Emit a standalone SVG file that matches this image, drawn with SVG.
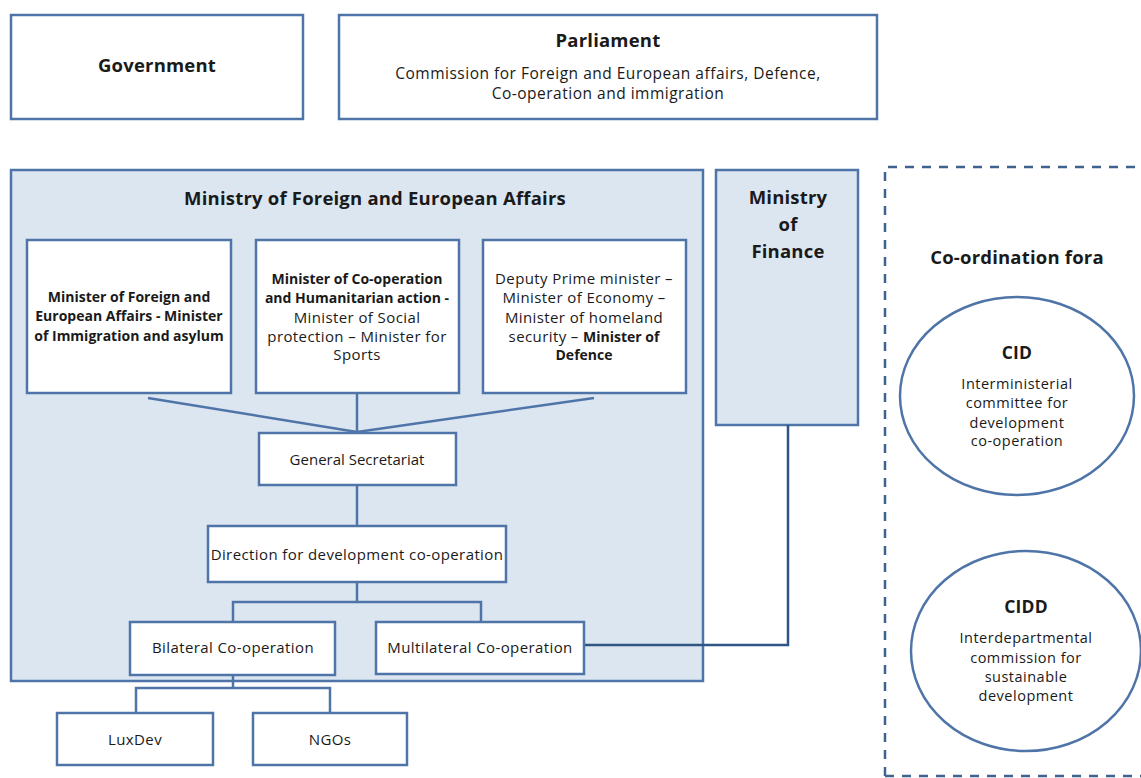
<svg xmlns="http://www.w3.org/2000/svg" width="1141" height="778" viewBox="0 0 1141 778">
<style>
.box{fill:#fff;stroke:#4f75a8;stroke-width:2.5}
.blue{fill:#dce6f1;stroke:#4f75a8;stroke-width:2.5}
.dash{fill:none;stroke:#3f638f;stroke-width:2.5;stroke-dasharray:9 8}
.ln{fill:none;stroke:#4f75a8;stroke-width:2.5}
.lnd{fill:none;stroke:#2f5584;stroke-width:2.5}
text{font-family:"Open Sans","Noto Sans","Liberation Sans",sans-serif;fill:#1a1a1a;text-anchor:middle}
.h{font-size:18.5px;font-weight:bold;letter-spacing:0.2px}
.p{font-size:15.5px;letter-spacing:0.5px}
.t{font-size:15px;letter-spacing:0.4px}
.tb{font-size:14px;font-weight:bold}
.b{font-weight:bold;letter-spacing:0}
.s{font-size:14.5px;letter-spacing:0.5px}
</style>
<rect width="1141" height="778" fill="#fff"/>
<g id="government"><rect class="box" x="11" y="15" width="292" height="104"/><text class="h" x="157" y="72">Government</text></g>
<g id="parliament"><rect class="box" x="339" y="15" width="538" height="104"/><text class="h" x="608" y="47">Parliament</text><text class="p" x="608" y="79">Commission for Foreign and European affairs, Defence,</text><text class="p" x="608" y="99">Co-operation and immigration</text></g>
<g id="mfea"><rect class="blue" x="11" y="170" width="692" height="511"/><text class="h" x="375" y="205">Ministry of Foreign and European  Affairs</text></g>
<g id="finance"><rect class="blue" x="716" y="170" width="142" height="255"/><text class="h" x="788" y="204">Ministry</text><text class="h" x="788" y="231">of</text><text class="h" x="788" y="258">Finance</text></g>
<g id="fora"><path class="dash" d="M885 776 V167 H1141"/><path class="dash" d="M885 776 H1141"/><text class="h" x="1017" y="264">Co-ordination fora</text></g>
<g id="connectors">
<path class="ln" d="M148 398 L357 432 M357 393 V432 M594 398 L357 432"/>
<path class="ln" d="M357 485 V526"/>
<path class="ln" d="M357 582 V602 M233 622 V602 H481 V622"/>
<path class="ln" d="M233 675 V688 M136 713 V688 H330 V713"/>
<path class="lnd" d="M584 645 H788 V425"/>
</g>
<g id="minister1"><rect class="box" x="27" y="240" width="204" height="153"/><text class="tb" x="129" y="302">Minister of Foreign and</text><text class="tb" x="129" y="321">European Affairs  - Minister</text><text class="tb" x="129" y="341">of Immigration and asylum</text></g>
<g id="minister2"><rect class="box" x="256" y="240" width="203" height="153"/><text class="tb" x="357" y="284">Minister of Co-operation</text><text class="tb" x="357" y="303">and Humanitarian action -</text><text class="t" x="357" y="323">Minister of Social</text><text class="t" x="357" y="342">protection – Minister for</text><text class="t" x="357" y="360">Sports</text></g>
<g id="minister3"><rect class="box" x="483" y="240" width="203" height="153"/><text class="t" x="584" y="284">Deputy Prime minister –</text><text class="t" x="584" y="303">Minister of Economy –</text><text class="t" x="584" y="323">Minister of homeland</text><text class="t" x="584" y="342">security – <tspan class="b" style="font-size:14px">Minister of</tspan></text><text class="tb" x="584" y="360">Defence</text></g>
<g id="gensec"><rect class="box" x="259" y="433" width="197" height="52"/><text class="t" x="357" y="465" style="letter-spacing:0">General Secretariat</text></g>
<g id="direction"><rect class="box" x="208" y="526" width="298" height="56"/><text class="t" x="357" y="560">Direction for development co-operation</text></g>
<g id="bilateral"><rect class="box" x="130" y="622" width="205" height="53"/><text class="t" x="233" y="653">Bilateral Co-operation</text></g>
<g id="multilateral"><rect class="box" x="376" y="622" width="208" height="52"/><text class="t" x="480" y="653">Multilateral Co-operation</text></g>
<g id="luxdev"><rect class="box" x="57" y="713" width="156" height="52"/><text class="t" x="135" y="745">LuxDev</text></g>
<g id="ngos"><rect class="box" x="253" y="713" width="154" height="52"/><text class="t" x="330" y="745">NGOs</text></g>
<g id="cid"><ellipse class="box" cx="1017" cy="396" rx="117" ry="99"/><text class="h" style="font-size:17.5px" x="1017" y="359">CID</text><text class="s" x="1017" y="389">Interministerial</text><text class="s" x="1017" y="408">committee for</text><text class="s" x="1017" y="428">development</text><text class="s" x="1017" y="446">co-operation</text></g>
<g id="cidd"><ellipse class="box" cx="1026" cy="651" rx="115" ry="100"/><text class="h" style="font-size:17.5px" x="1026" y="613">CIDD</text><text class="s" x="1026" y="643">Interdepartmental</text><text class="s" x="1026" y="663">commission for</text><text class="s" x="1026" y="682">sustainable</text><text class="s" x="1026" y="701">development</text></g>
</svg>
